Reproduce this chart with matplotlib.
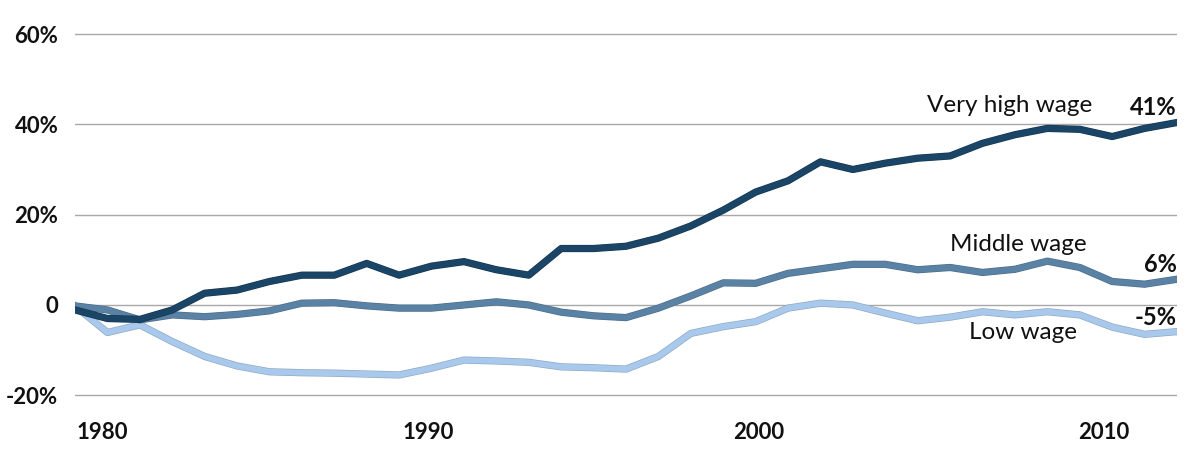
import numpy as np
import matplotlib
matplotlib.use("Agg")
import matplotlib.pyplot as plt
import matplotlib.patheffects as pe

plt.rcParams['font.family'] = ['Lato', 'DejaVu Sans']

# cumulative change in real hourly wages, 1979-2013 (%)
years = np.arange(1979, 2014)
very_high = [-1.1, -3.0, -3.2, -1.1, 2.6, 3.3, 5.2, 6.6, 6.6, 9.2, 6.6,
             8.6, 9.6, 7.8, 6.6, 12.5, 12.5, 13.0, 14.8, 17.5, 21.0, 25.0,
             27.5, 31.7, 30.0, 31.4, 32.5, 33.0, 35.8, 37.7, 39.1, 38.9,
             37.3, 39.1, 40.4]
middle = [-0.2, -1.1, -3.3, -2.2, -2.6, -2.1, -1.3, 0.4, 0.5, -0.2, -0.7,
          -0.7, 0.0, 0.7, 0.0, -1.6, -2.4, -2.8, -0.7, 2.0, 4.9, 4.8,
          7.0, 8.0, 9.0, 9.0, 7.8, 8.3, 7.2, 7.9, 9.7, 8.3,
          5.2, 4.6, 5.7]
low = [-0.2, -6.1, -4.4, -8.1, -11.4, -13.5, -14.8, -15.0, -15.1, -15.3, -15.5,
       -14.0, -12.2, -12.4, -12.7, -13.7, -13.9, -14.2, -11.4, -6.3, -4.8, -3.7,
       -0.7, 0.4, 0.0, -1.8, -3.5, -2.7, -1.5, -2.2, -1.5, -2.2,
       -4.9, -6.5, -5.9]

series_names = ["Very high wage", "Middle wage", "Low wage"]
end_labels = ["41%", "6%", "-5%"]
y_ticks = [-20, 0, 20, 40, 60]
y_tick_labels = ["-20%", "0", "20%", "40%", "60%"]
x_tick_labels = ["1980", "1990", "2000", "2010"]

colors = ["#1b4567", "#5a82a5", "#a8c8ec"]
edges = ["#15364f", "#4a6c8a", "#8ea6bf"]

fig = plt.figure(figsize=(12, 4.62), dpi=100)
ax = fig.add_axes([75/1200, 1 - 399.8/462, 1102/1200, 370.3/462])

for vals, c, e in zip([low, middle, very_high], colors[::-1], edges[::-1]):
    ax.plot(years, vals, color=c, lw=4.3, solid_joinstyle='round',
            path_effects=[pe.Stroke(linewidth=5.2, foreground=e), pe.Normal()])

ax.set_xlim(1979, 2013)
ax.set_ylim(-21, 61)
ax.set_yticks(y_ticks)
ax.set_yticklabels(y_tick_labels)
# label positions as drawn in the original
ax.set_xticks([1979.85, 1989.9, 2000.1, 2010.75])
ax.set_xticklabels(x_tick_labels)
ax.tick_params(length=0, labelsize=16)
ax.tick_params(axis='y', pad=12)
ax.tick_params(axis='x', pad=16)
for lab in ax.get_xticklabels() + ax.get_yticklabels():
    lab.set_fontweight('bold')
    lab.set_color('#111111')
for s in ax.spines.values():
    s.set_visible(False)
ax.yaxis.grid(True, color='#a8a8a8', lw=1)
ax.set_axisbelow(True)

# series names
ax.text(2010.4, 44.2, series_names[0], ha='right', va='center', fontsize=17.5, color='#111111')
ax.text(2010.2, 13.5, series_names[1], ha='right', va='center', fontsize=17.5, color='#111111')
ax.text(2009.9, -6.2, series_names[2], ha='right', va='center', fontsize=17.5, color='#111111')

# end values
for vals, lab in zip([very_high, middle, low], end_labels):
    ax.annotate(lab, (years[-1], vals[-1]), xytext=(0, 10.5), textcoords='offset points',
                ha='right', va='center', fontsize=17, fontweight='bold', color='#111111')

fig.savefig("out.png", dpi=100)
